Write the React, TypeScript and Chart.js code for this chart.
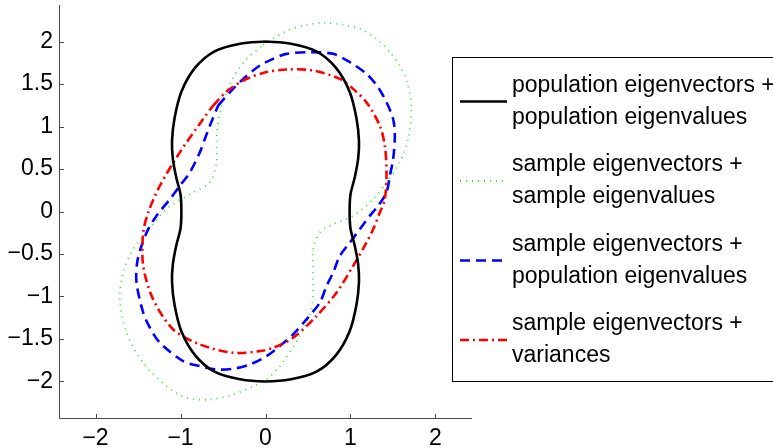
import React, { useEffect, useRef } from "react";
import { Chart, registerables } from "chart.js";

Chart.register(...registerables);

// ---- axis data ----
const AXIS_MIN = -2.43;
const AXIS_MAX = 2.43;
const X_TICKS = [-2, -1, 0, 1, 2];
const Y_TICKS = [-2, -1.5, -1, -0.5, 0, 0.5, 1, 1.5, 2];

// ---- series: population eigenvectors + population eigenvalues (black solid) ----
const POP_X = [0, 0.3, 0.6, 0.83, 0.99, 1.07, 1.1, 1.09, 1.05, 1.0, 0.99, 1.0, 1.05, 1.09, 1.1, 1.07, 0.99, 0.83, 0.6, 0.3, 0, -0.3, -0.6, -0.83, -0.99, -1.07, -1.1, -1.09, -1.05, -1.0, -0.99, -1.0, -1.05, -1.09, -1.1, -1.07, -0.99, -0.83, -0.6, -0.3, 0];
const POP_Y = [2.0, 1.975, 1.885, 1.69, 1.41, 1.1, 0.83, 0.62, 0.4, 0.2, 0, -0.2, -0.4, -0.62, -0.83, -1.1, -1.41, -1.69, -1.885, -1.975, -2.0, -1.975, -1.885, -1.69, -1.41, -1.1, -0.83, -0.62, -0.4, -0.2, 0, 0.2, 0.4, 0.62, 0.83, 1.1, 1.41, 1.69, 1.885, 1.975, 2.0];

// ---- series: sample eigenvectors + sample eigenvalues (green dotted) ----
const SS_X = [-0.027, 0.247, 0.482, 0.698, 0.914, 1.129, 1.306, 1.463, 1.58, 1.667, 1.718, 1.678, 1.58, 1.424, 1.267, 1.031, 0.796, 0.639, 0.561, 0.561, 0.541, 0.404, 0.169, 0.012, -0.145, -0.38, -0.655, -0.929, -1.165, -1.439, -1.635, -1.714, -1.675, -1.557, -1.4, -1.165, -0.851, -0.655, -0.576, -0.576, -0.54, -0.4, -0.24, -0.027];
const SS_Y = [1.961, 2.123, 2.197, 2.221, 2.197, 2.142, 2.032, 1.875, 1.718, 1.521, 1.207, 0.853, 0.578, 0.342, 0.145, -0.051, -0.149, -0.248, -0.444, -0.837, -1.152, -1.466, -1.82, -1.977, -2.056, -2.154, -2.213, -2.193, -2.056, -1.781, -1.427, -1.034, -0.719, -0.444, -0.248, 0.028, 0.224, 0.342, 0.578, 0.83, 1.15, 1.54, 1.776, 1.961];

// ---- series: sample eigenvectors + population eigenvalues (blue dashed) ----
const SP_X = [-0.557, -0.42, -0.263, -0.067, 0.09, 0.247, 0.522, 0.796, 0.992, 1.188, 1.325, 1.424, 1.502, 1.522, 1.502, 1.463, 1.424, 1.325, 1.227, 1.11, 0.992, 0.875, 0.796, 0.718, 0.639, 0.482, 0.325, 0.169, 0.012, -0.184, -0.38, -0.576, -0.773, -0.969, -1.243, -1.36, -1.439, -1.518, -1.51, -1.459, -1.38, -1.282, -1.125, -1.008, -0.89, -0.773, -0.714, -0.655, -0.557];
const SP_Y = [1.246, 1.403, 1.56, 1.718, 1.796, 1.855, 1.875, 1.855, 1.757, 1.62, 1.462, 1.285, 1.089, 0.892, 0.617, 0.42, 0.224, 0.067, -0.051, -0.208, -0.366, -0.523, -0.719, -0.877, -1.073, -1.27, -1.447, -1.584, -1.702, -1.8, -1.851, -1.859, -1.82, -1.761, -1.545, -1.368, -1.191, -0.837, -0.6, -0.405, -0.208, -0.051, 0.145, 0.303, 0.46, 0.696, 0.853, 1.01, 1.246];

// ---- series: sample eigenvectors + variances (red dash-dot) ----
const SV_X = [-0.616, -0.459, -0.263, -0.027, 0.247, 0.561, 0.875, 1.031, 1.188, 1.345, 1.404, 1.424, 1.404, 1.345, 1.267, 1.188, 1.031, 0.835, 0.6, 0.325, 0.09, -0.067, -0.38, -0.773, -1.086, -1.322, -1.439, -1.439, -1.38, -1.243, -1.008, -0.733, -0.616];
const SV_Y = [1.246, 1.411, 1.541, 1.631, 1.671, 1.659, 1.561, 1.443, 1.285, 1.01, 0.774, 0.46, 0.145, -0.012, -0.208, -0.366, -0.641, -0.955, -1.23, -1.486, -1.604, -1.643, -1.663, -1.564, -1.388, -1.034, -0.641, -0.248, -0.012, 0.303, 0.696, 1.089, 1.246];

const LABELS = [
  ["population eigenvectors +", "population eigenvalues"],
  ["sample eigenvectors +", "sample eigenvalues"],
  ["sample eigenvectors +", "population eigenvalues"],
  ["sample eigenvectors +", "variances"],
];
const COLORS = ["#000000", "#22ee22", "#0000ff", "#ff0000"];
const WIDTHS = [2.6, 1.8, 2.6, 2.6];
const DASHES: number[][] = [[], [1, 5], [10, 6], [9, 4, 2, 4]];

const FONT = '"Liberation Sans", Arial, Helvetica, sans-serif';

const toPoints = (xs: number[], ys: number[]) => xs.map((x, i) => ({ x, y: ys[i] }));
const fmt = (v: number) => String(v).replace("-", "\u2212");

const decorPlugin = {
  id: "decor",
  afterDraw(chart: any) {
    const ctx = chart.ctx as CanvasRenderingContext2D;
    const { left, right, top, bottom } = chart.chartArea;
    const xs = chart.scales.x;
    const ys = chart.scales.y;
    ctx.save();
    // axes
    ctx.strokeStyle = "#4a4a4a";
    ctx.lineWidth = 1;
    ctx.setLineDash([]);
    ctx.beginPath();
    ctx.moveTo(Math.round(left) + 0.5, top);
    ctx.lineTo(Math.round(left) + 0.5, Math.round(bottom) + 0.5);
    ctx.lineTo(right, Math.round(bottom) + 0.5);
    ctx.stroke();
    // inward ticks
    ctx.beginPath();
    X_TICKS.forEach((v) => {
      const px = Math.round(xs.getPixelForValue(v)) + 0.5;
      ctx.moveTo(px, Math.round(bottom));
      ctx.lineTo(px, Math.round(bottom) - 4);
    });
    Y_TICKS.forEach((v) => {
      const py = Math.round(ys.getPixelForValue(v)) + 0.5;
      ctx.moveTo(Math.round(left) + 1, py);
      ctx.lineTo(Math.round(left) + 5, py);
    });
    ctx.stroke();

    // legend
    const bx = 452.5, by = 57.5, bw = 330, bh = 324;
    ctx.fillStyle = "#ffffff";
    ctx.fillRect(bx, by, bw, bh);
    ctx.strokeStyle = "#000000";
    ctx.lineWidth = 1;
    ctx.strokeRect(bx, by, bw, bh);
    const centers = [101.5, 181, 260.5, 340];
    ctx.font = `23px ${FONT}`;
    ctx.textBaseline = "middle";
    ctx.textAlign = "left";
    LABELS.forEach((lines, i) => {
      const cy = centers[i];
      ctx.strokeStyle = COLORS[i];
      ctx.lineWidth = WIDTHS[i];
      ctx.setLineDash(DASHES[i]);
      ctx.beginPath();
      ctx.moveTo(460, cy);
      ctx.lineTo(507, cy);
      ctx.stroke();
      ctx.setLineDash([]);
      ctx.fillStyle = "#000000";
      ctx.fillText(lines[0], 512, cy - 16);
      ctx.fillText(lines[1], 512, cy + 16);
    });
    ctx.restore();
  },
};

export default function App() {
  const ref = useRef<HTMLCanvasElement | null>(null);
  useEffect(() => {
    if (!ref.current) return;
    const series = [
      toPoints(SS_X, SS_Y),
      toPoints(SP_X, SP_Y),
      toPoints(SV_X, SV_Y),
      toPoints(POP_X, POP_Y),
    ];
    const idx = [1, 2, 3, 0];
    const chart = new Chart(ref.current, {
      type: "line",
      data: {
        datasets: series.map((pts, k) => ({
          label: LABELS[idx[k]].join(" "),
          data: pts,
          borderColor: COLORS[idx[k]],
          borderWidth: WIDTHS[idx[k]],
          borderDash: DASHES[idx[k]],
          pointRadius: 0,
          fill: false,
          tension: 0.3,
          order: 4 - k,
        })),
      },
      options: {
        animation: false,
        responsive: false,
        devicePixelRatio: 1,
        layout: { padding: { left: 0, top: 5, right: 301, bottom: 0 } },
        plugins: { legend: { display: false }, tooltip: { enabled: false } },
        scales: {
          x: {
            type: "linear",
            min: AXIS_MIN,
            max: AXIS_MAX,
            grid: { display: false, drawTicks: false },
            border: { display: false },
            afterBuildTicks: (s: any) => {
              s.ticks = X_TICKS.map((value) => ({ value }));
            },
            afterFit: (s: any) => {
              s.height = 30;
              s.paddingLeft = 0;
              s.paddingRight = 0;
            },
            ticks: {
              padding: 7,
              color: "#000000",
              font: { family: FONT, size: 23 },
              maxRotation: 0,
              autoSkip: false,
              callback: (v: any) => fmt(Number(v)),
            },
          },
          y: {
            type: "linear",
            min: AXIS_MIN,
            max: AXIS_MAX,
            grid: { display: false, drawTicks: false },
            border: { display: false },
            afterBuildTicks: (s: any) => {
              s.ticks = Y_TICKS.map((value) => ({ value }));
            },
            afterFit: (s: any) => {
              s.width = 59;
              s.paddingTop = 0;
              s.paddingBottom = 0;
            },
            ticks: {
              padding: 6,
              color: "#000000",
              font: { family: FONT, size: 23 },
              autoSkip: false,
              callback: (v: any) => fmt(Number(v)),
            },
          },
        },
      },
      plugins: [decorPlugin],
    });
    return () => chart.destroy();
  }, []);
  return (
    <div style={{ position: "absolute", left: 0, top: 0, width: 773, height: 448, background: "#fff" }}>
      <canvas ref={ref} width={773} height={448} style={{ display: "block" }} />
    </div>
  );
}
